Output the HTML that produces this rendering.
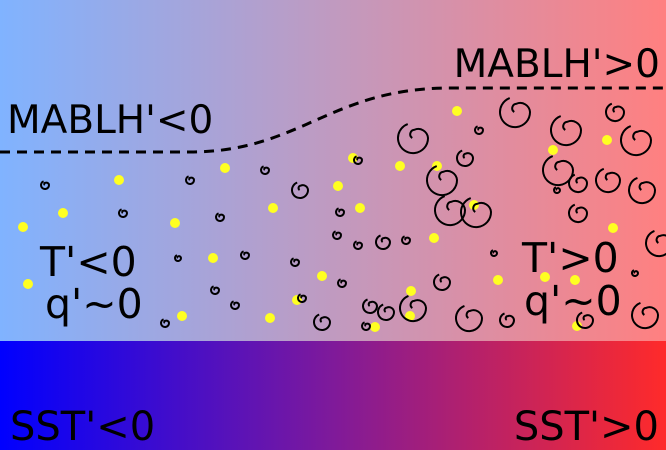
<!DOCTYPE html>
<html><head><meta charset="utf-8"><style>html,body{margin:0;padding:0;width:666px;height:450px;overflow:hidden}</style></head>
<body>
<svg width="666" height="450" viewBox="0 0 666 450" xmlns="http://www.w3.org/2000/svg" font-family="DejaVu Sans, Liberation Sans, sans-serif">
<defs>
<linearGradient id="gt" x1="0" x2="1" y1="0" y2="0"><stop offset="0" stop-color="#80b3ff"/><stop offset="0.5" stop-color="#c09ac0"/><stop offset="1" stop-color="#ff8080"/></linearGradient>
<linearGradient id="gb" x1="0" x2="1" y1="0" y2="0"><stop offset="0" stop-color="#0000ff"/><stop offset="0.5" stop-color="#7f1a9a"/><stop offset="1" stop-color="#ff2a2a"/></linearGradient>
<symbol id="s" viewBox="-1 -1 2 2" overflow="visible"><path d="M -0.35,-0.93 A 1 1 0 1 0 1,0 A 0.65 0.65 0 0 0 0.1,-0.55 A 0.3 0.3 0 0 0 -0.05,0" fill="none" stroke="#000" stroke-width="2" vector-effect="non-scaling-stroke"/></symbol>
</defs>
<rect x="0" y="0" width="666" height="341" fill="url(#gt)"/>
<rect x="0" y="341" width="666" height="109" fill="url(#gb)"/>
<path d="M0,152 L190,152 C300,152 330,88 450,88 L666,88" fill="none" stroke="#000" stroke-width="3" stroke-dasharray="10,7"/>
<g fill="#ffff22">
<circle cx="23" cy="227" r="5"/><circle cx="63" cy="213" r="5"/><circle cx="119" cy="180" r="5"/><circle cx="28" cy="284" r="5"/><circle cx="175" cy="223" r="5"/><circle cx="213" cy="258" r="5"/><circle cx="225" cy="168" r="5"/><circle cx="273" cy="208" r="5"/><circle cx="270" cy="318" r="5"/><circle cx="182" cy="316" r="5"/><circle cx="338" cy="186" r="5"/><circle cx="360" cy="208" r="5"/><circle cx="353" cy="158" r="5"/><circle cx="400" cy="166" r="5"/><circle cx="437" cy="166" r="5"/><circle cx="457" cy="111" r="5"/><circle cx="474" cy="205" r="5"/><circle cx="434" cy="238" r="5"/><circle cx="411" cy="291" r="5"/><circle cx="410" cy="316" r="5"/><circle cx="375" cy="327" r="5"/><circle cx="322" cy="276" r="5"/><circle cx="498" cy="280" r="5"/><circle cx="545" cy="277" r="5"/><circle cx="553" cy="150" r="5"/><circle cx="607" cy="140" r="5"/><circle cx="613" cy="228" r="5"/><circle cx="575" cy="280" r="5"/><circle cx="577" cy="326" r="5"/><circle cx="297" cy="300" r="5"/>
</g>
<g>
<use href="#s" x="41" y="181" width="8" height="8"/>
<use href="#s" x="119" y="209" width="8" height="8"/>
<use href="#s" x="186" y="176" width="8" height="8"/>
<use href="#s" x="216" y="213" width="8" height="8"/>
<use href="#s" x="175" y="255" width="6" height="6"/>
<use href="#s" x="241" y="251" width="8" height="8"/>
<use href="#s" x="211" y="286" width="8" height="8"/>
<use href="#s" x="231" y="301" width="8" height="8"/>
<use href="#s" x="161" y="319" width="8" height="8"/>
<use href="#s" x="261" y="166" width="8" height="8"/>
<use href="#s" x="292" y="182" width="16" height="16"/>
<use href="#s" x="291" y="258" width="8" height="8"/>
<use href="#s" x="298" y="294" width="8" height="8"/>
<use href="#s" x="314" y="314" width="16" height="16"/>
<use href="#s" x="336" y="208" width="8" height="8"/>
<use href="#s" x="354" y="156" width="8" height="8"/>
<use href="#s" x="333" y="231" width="8" height="8"/>
<use href="#s" x="354" y="241" width="8" height="8"/>
<use href="#s" x="376" y="235" width="14" height="14"/>
<use href="#s" x="338" y="279" width="8" height="8"/>
<use href="#s" x="363" y="299" width="14" height="14"/>
<use href="#s" x="362" y="322" width="8" height="8"/>
<use href="#s" x="398" y="123" width="30" height="30"/>
<use href="#s" x="475" y="126" width="8" height="8"/>
<use href="#s" x="457" y="150" width="16" height="16"/>
<use href="#s" x="402" y="236" width="8" height="8"/>
<use href="#s" x="435" y="195" width="30" height="30"/>
<use href="#s" x="427" y="165" width="30" height="30"/>
<use href="#s" x="461" y="197" width="30" height="30"/>
<use href="#s" x="543" y="155" width="30" height="30"/>
<use href="#s" x="500" y="97" width="30" height="30"/>
<use href="#s" x="551" y="115" width="30" height="30"/>
<use href="#s" x="606" y="103" width="18" height="18"/>
<use href="#s" x="621" y="125" width="30" height="30"/>
<use href="#s" x="569" y="174" width="18" height="18"/>
<use href="#s" x="629" y="177" width="26" height="26"/>
<use href="#s" x="554" y="187" width="6" height="6"/>
<use href="#s" x="569" y="204" width="18" height="18"/>
<use href="#s" x="646" y="230" width="26" height="26"/>
<use href="#s" x="434" y="274" width="16" height="16"/>
<use href="#s" x="400" y="295" width="26" height="26"/>
<use href="#s" x="491" y="250" width="6" height="6"/>
<use href="#s" x="456" y="305" width="26" height="26"/>
<use href="#s" x="500" y="313" width="14" height="14"/>
<use href="#s" x="632" y="270" width="6" height="6"/>
<use href="#s" x="632" y="302" width="26" height="26"/>
<use href="#s" x="577" y="312" width="16" height="16"/>
<use href="#s" x="378" y="304" width="16" height="16"/>
<use href="#s" x="596" y="168" width="24" height="24"/>
</g>
<g fill="#000" font-size="39">
<text x="7" y="133">MABLH'&lt;0</text>
<text x="660" y="77" text-anchor="end">MABLH'&gt;0</text>
<text x="40" y="276" font-size="41">T'&lt;0</text>
<text x="45" y="318" font-size="41">q'~0</text>
<text x="522" y="272" font-size="41">T'&gt;0</text>
<text x="524" y="315" font-size="41">q'~0</text>
<text x="10" y="440" font-size="40">SST'&lt;0</text>
<text x="659" y="440" font-size="40" text-anchor="end">SST'&gt;0</text>
</g>
</svg>
</body></html>
